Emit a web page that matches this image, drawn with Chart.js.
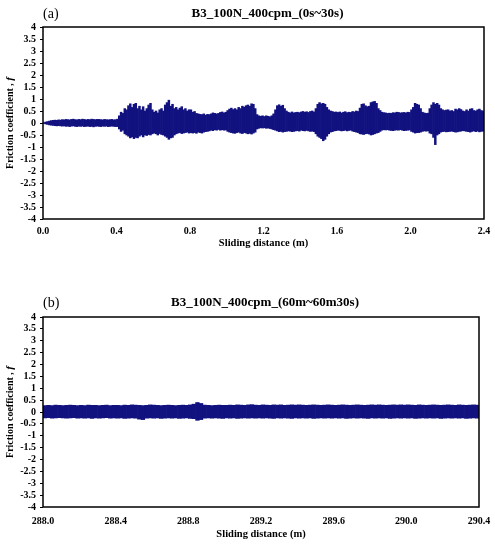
<!DOCTYPE html>
<html>
<head>
<meta charset="utf-8">
<script src="https://cdn.jsdelivr.net/npm/chart.js@4"></script>
<style>
  body { margin: 0; background: #fff; }
  .panel { width: 495px; height: 275px; position: relative; }
</style>
</head>
<body>
<div class="panel"><canvas id="chart-a" width="495" height="275"></canvas></div>
<div class="panel"><canvas id="chart-b" width="495" height="275"></canvas></div>
<script>
// friction coefficient envelopes (max / min in each bin)

// (a) 0s~30s, bins of 0.01 m
const startA = 0.0;
const binA = 0.01;
const hiA = [
  0.02, 0.04, 0.06, 0.08, 0.1, 0.11, 0.12, 0.11, 0.13, 0.12,
  0.14, 0.13, 0.15, 0.14, 0.13, 0.15, 0.16, 0.14, 0.13, 0.15,
  0.14, 0.16, 0.15, 0.13, 0.15, 0.14, 0.16, 0.15, 0.14, 0.15,
  0.15, 0.14, 0.13, 0.15, 0.14, 0.13, 0.14, 0.15, 0.13, 0.14,
  0.16, 0.3, 0.45, 0.4, 0.6, 0.55, 0.72, 0.8, 0.65, 0.78,
  0.82, 0.6, 0.7, 0.55, 0.68, 0.5, 0.6, 0.75, 0.82, 0.55,
  0.45, 0.5, 0.42, 0.55, 0.6, 0.5, 0.75, 0.85, 0.95, 0.7,
  0.78, 0.6, 0.65, 0.55, 0.62, 0.68, 0.55, 0.6, 0.5, 0.55,
  0.55, 0.45, 0.48, 0.4, 0.38, 0.36, 0.35, 0.38, 0.33, 0.36,
  0.35, 0.38, 0.42, 0.4, 0.38, 0.4, 0.44, 0.46, 0.42, 0.45,
  0.52, 0.58, 0.62, 0.56, 0.6, 0.55, 0.65, 0.6, 0.7, 0.66,
  0.72, 0.75, 0.7, 0.8, 0.78, 0.6, 0.35, 0.3, 0.28, 0.3,
  0.27, 0.3, 0.28, 0.26, 0.3, 0.38, 0.55, 0.72, 0.76, 0.7,
  0.74, 0.6, 0.5, 0.45, 0.42, 0.46, 0.42, 0.44, 0.45, 0.43,
  0.46, 0.48, 0.45, 0.47, 0.44, 0.48, 0.5, 0.46, 0.6, 0.78,
  0.85, 0.8, 0.82, 0.78, 0.65, 0.55, 0.5, 0.48, 0.45, 0.46,
  0.44, 0.46, 0.42, 0.45, 0.47, 0.43, 0.45, 0.44, 0.48, 0.46,
  0.5, 0.48, 0.62, 0.78, 0.8, 0.72, 0.68, 0.7, 0.85, 0.88,
  0.9, 0.82, 0.6, 0.52, 0.45, 0.43, 0.42, 0.4, 0.41, 0.4,
  0.43, 0.42, 0.45, 0.44, 0.42, 0.43, 0.44, 0.42, 0.45, 0.44,
  0.55, 0.65, 0.82, 0.78, 0.75, 0.6, 0.45, 0.42, 0.4, 0.41,
  0.6, 0.75, 0.85, 0.78, 0.82, 0.75, 0.6, 0.55, 0.52, 0.54,
  0.55, 0.5, 0.52, 0.48, 0.58, 0.55, 0.6, 0.56, 0.5, 0.48,
  0.55, 0.5, 0.58, 0.6, 0.52, 0.5, 0.55, 0.58, 0.52, 0.5
];
const loA = [
  -0.02, -0.04, -0.06, -0.08, -0.09, -0.1, -0.11, -0.12, -0.11, -0.12,
  -0.13, -0.12, -0.14, -0.13, -0.15, -0.13, -0.12, -0.14, -0.15, -0.13,
  -0.14, -0.13, -0.15, -0.14, -0.13, -0.15, -0.14, -0.16, -0.14, -0.13,
  -0.14, -0.15, -0.13, -0.14, -0.13, -0.15, -0.14, -0.13, -0.14, -0.15,
  -0.15, -0.25, -0.35, -0.3, -0.45, -0.5, -0.55, -0.62, -0.58, -0.65,
  -0.6, -0.62, -0.55, -0.5, -0.58, -0.5, -0.52, -0.48, -0.5, -0.45,
  -0.42, -0.45, -0.5, -0.44, -0.48, -0.5, -0.55, -0.6, -0.68, -0.62,
  -0.6, -0.5, -0.45, -0.42, -0.4, -0.44, -0.42, -0.4, -0.38, -0.42,
  -0.4, -0.42, -0.4, -0.43, -0.38, -0.4, -0.42, -0.38, -0.36, -0.35,
  -0.33, -0.3, -0.32, -0.28, -0.3, -0.27, -0.3, -0.28, -0.3, -0.29,
  -0.35, -0.38, -0.4, -0.42, -0.43, -0.4, -0.38, -0.42, -0.44, -0.4,
  -0.42, -0.45, -0.43, -0.46, -0.42, -0.38, -0.25, -0.22, -0.2, -0.21,
  -0.2, -0.22, -0.21, -0.23, -0.25, -0.28, -0.3, -0.33, -0.36, -0.35,
  -0.38, -0.36, -0.35, -0.33, -0.34, -0.36, -0.35, -0.33, -0.32, -0.34,
  -0.3, -0.32, -0.33, -0.31, -0.33, -0.35, -0.34, -0.36, -0.45, -0.55,
  -0.6, -0.65, -0.74, -0.68, -0.55, -0.45, -0.38, -0.36, -0.33, -0.32,
  -0.3, -0.31, -0.33, -0.32, -0.3, -0.33, -0.31, -0.3, -0.34, -0.36,
  -0.38, -0.4, -0.45, -0.46, -0.48, -0.45, -0.44, -0.46, -0.5, -0.48,
  -0.45, -0.42, -0.4, -0.35, -0.3, -0.28, -0.29, -0.28, -0.3, -0.31,
  -0.32, -0.3, -0.29, -0.3, -0.28, -0.3, -0.32, -0.31, -0.3, -0.29,
  -0.35, -0.38, -0.42, -0.4, -0.4, -0.38, -0.35, -0.33, -0.34, -0.33,
  -0.42, -0.45, -0.6, -0.9, -0.5, -0.45, -0.38, -0.36, -0.35, -0.37,
  -0.36, -0.35, -0.34, -0.36, -0.38, -0.37, -0.35, -0.34, -0.32, -0.33,
  -0.35, -0.36, -0.38, -0.35, -0.33, -0.36, -0.34, -0.37, -0.35, -0.34
];

// (b) 60m~60m30s, bins of 0.02 m
const startB = 288.0;
const binB = 0.02;
const hiB = [
  0.27, 0.28, 0.27, 0.29, 0.28, 0.27, 0.28, 0.29, 0.28, 0.27,
  0.28, 0.27, 0.29, 0.28, 0.28, 0.27, 0.28, 0.29, 0.27, 0.28,
  0.28, 0.27, 0.29, 0.28, 0.3, 0.29, 0.28, 0.27, 0.28, 0.3,
  0.29, 0.28, 0.27, 0.28, 0.29, 0.28, 0.27, 0.28, 0.29, 0.28,
  0.3, 0.33, 0.4, 0.36, 0.29, 0.28, 0.27, 0.28, 0.29, 0.28,
  0.28, 0.29, 0.28, 0.3, 0.29, 0.28, 0.3, 0.31, 0.29, 0.28,
  0.3, 0.29, 0.28, 0.3, 0.29, 0.3, 0.28, 0.29, 0.3, 0.29,
  0.3, 0.29, 0.28, 0.29, 0.3, 0.29, 0.28, 0.29, 0.3, 0.29,
  0.28, 0.29, 0.3, 0.29, 0.28, 0.29, 0.3, 0.29, 0.28, 0.29,
  0.3, 0.29, 0.3, 0.29, 0.28, 0.29, 0.3, 0.29, 0.3, 0.29,
  0.3, 0.29, 0.28, 0.3, 0.29, 0.28, 0.29, 0.3, 0.29, 0.28,
  0.29, 0.3, 0.29, 0.28, 0.3, 0.29, 0.28, 0.29, 0.3, 0.29
];
const loB = [
  -0.25, -0.24, -0.26, -0.25, -0.24, -0.25, -0.26, -0.25, -0.24, -0.26,
  -0.25, -0.26, -0.25, -0.27, -0.25, -0.26, -0.25, -0.24, -0.26, -0.25,
  -0.26, -0.25, -0.27, -0.26, -0.25, -0.26, -0.3, -0.32, -0.26, -0.25,
  -0.26, -0.25, -0.27, -0.26, -0.25, -0.26, -0.25, -0.27, -0.26, -0.25,
  -0.27, -0.28, -0.35, -0.32, -0.26, -0.25, -0.26, -0.25, -0.26, -0.27,
  -0.25, -0.26, -0.25, -0.27, -0.26, -0.25, -0.26, -0.25, -0.26, -0.25,
  -0.26, -0.25, -0.26, -0.27, -0.25, -0.26, -0.25, -0.26, -0.27, -0.25,
  -0.26, -0.25, -0.26, -0.25, -0.27, -0.26, -0.25, -0.26, -0.25, -0.26,
  -0.25, -0.26, -0.25, -0.27, -0.26, -0.25, -0.26, -0.25, -0.26, -0.27,
  -0.25, -0.26, -0.25, -0.26, -0.25, -0.27, -0.26, -0.25, -0.26, -0.25,
  -0.26, -0.25, -0.27, -0.26, -0.25, -0.26, -0.25, -0.26, -0.25, -0.27,
  -0.26, -0.25, -0.26, -0.25, -0.26, -0.25, -0.27, -0.26, -0.25, -0.26
];

const yTicks = { min: -4, max: 4, step: 0.5 };
const xTicksA = { min: 0.0, max: 2.4, step: 0.4 };
const xTicksB = { min: 288.0, max: 290.4, step: 0.4 };

const SERIF = "'Liberation Serif', 'Times New Roman', serif";
const NAVY = "#11117f";

function toBars(start, bin, hi, lo) {
  return hi.map((h, i) => ({ x: start + bin * (i + 0.5), y: [lo[i], h] }));
}

// frame, panel letter, title and y title (with italic f)
const decorPlugin = {
  id: "decor",
  afterDraw(chart, args, opts) {
    const { ctx, chartArea: a } = chart;
    ctx.save();
    ctx.strokeStyle = "#000";
    ctx.lineWidth = 1.5;
    ctx.strokeRect(a.left, a.top, a.right - a.left, a.bottom - a.top);

    ctx.fillStyle = "#000";
    ctx.textBaseline = "middle";
    ctx.font = "14px " + SERIF;
    ctx.textAlign = "left";
    ctx.fillText(opts.letter, 43, opts.titleY);

    ctx.font = "bold 13px " + SERIF;
    ctx.textAlign = "center";
    ctx.fillText(opts.title, (a.left + a.right) / 2 + 4, opts.titleY);

    // y axis title
    ctx.translate(10, (a.top + a.bottom) / 2);
    ctx.rotate(-Math.PI / 2);
    const main = "Friction coefficient , ";
    ctx.font = "bold 10px " + SERIF;
    const w1 = ctx.measureText(main).width;
    ctx.font = "bold italic 11px " + SERIF;
    const w2 = ctx.measureText("f").width;
    const x0 = -(w1 + w2) / 2;
    ctx.textAlign = "left";
    ctx.font = "bold 10px " + SERIF;
    ctx.fillText(main, x0, 0);
    ctx.font = "bold italic 11px " + SERIF;
    ctx.fillText("f", x0 + w1, 0);
    ctx.restore();
  }
};

function makeChart(id, start, bin, hi, lo, xt, cfg) {
  return new Chart(document.getElementById(id), {
    type: "bar",
    data: {
      datasets: [{
        data: toBars(start, bin, hi, lo),
        backgroundColor: NAVY,
        borderWidth: 0,
        barPercentage: 1,
        categoryPercentage: 1,
        grouped: false
      }]
    },
    options: {
      responsive: false,
      animation: false,
      layout: { padding: { left: 0, right: cfg.right, top: cfg.top, bottom: cfg.bottom } },
      plugins: {
        legend: { display: false },
        tooltip: { enabled: false },
        decor: { letter: cfg.letter, title: cfg.title, titleY: cfg.titleY }
      },
      scales: {
        x: {
          type: "linear",
          min: xt.min,
          max: xt.max,
          offset: false,
          grid: { display: false },
          border: { display: false },
          ticks: {
            stepSize: xt.step,
            padding: cfg.xPad,
            color: "#000",
            font: { family: SERIF, size: 10, weight: "bold" },
            maxRotation: 0,
            autoSkip: false,
            callback: v => Number(v).toFixed(1)
          },
          title: {
            display: true,
            text: "Sliding distance (m)",
            color: "#000",
            font: { family: SERIF, size: 10.5, weight: "bold" },
            padding: 0
          },
          afterFit: s => { s.height = cfg.xHeight; }
        },
        y: {
          min: yTicks.min,
          max: yTicks.max,
          grid: { display: true, drawOnChartArea: false, drawTicks: true, tickLength: 3, color: "#000" },
          border: { display: false },
          ticks: {
            stepSize: yTicks.step,
            padding: 4,
            autoSkip: false,
            color: "#000",
            font: { family: SERIF, size: 10, weight: "bold" },
            callback: v => String(Math.round(v * 10) / 10)
          },
          afterFit: s => { s.width = 43; }
        }
      }
    },
    plugins: [decorPlugin]
  });
}

makeChart("chart-a", startA, binA, hiA, loA, xTicksA, {
  letter: "(a)", title: "B3_100N_400cpm_(0s~30s)", titleY: 14,
  top: 27, right: 11, bottom: 25, xHeight: 31, xPad: -2
});
makeChart("chart-b", startB, binB, hiB, loB, xTicksB, {
  letter: "(b)", title: "B3_100N_400cpm_(60m~60m30s)", titleY: 28,
  top: 42, right: 16, bottom: 9, xHeight: 34, xPad: 0
});
</script>
</body>
</html>
